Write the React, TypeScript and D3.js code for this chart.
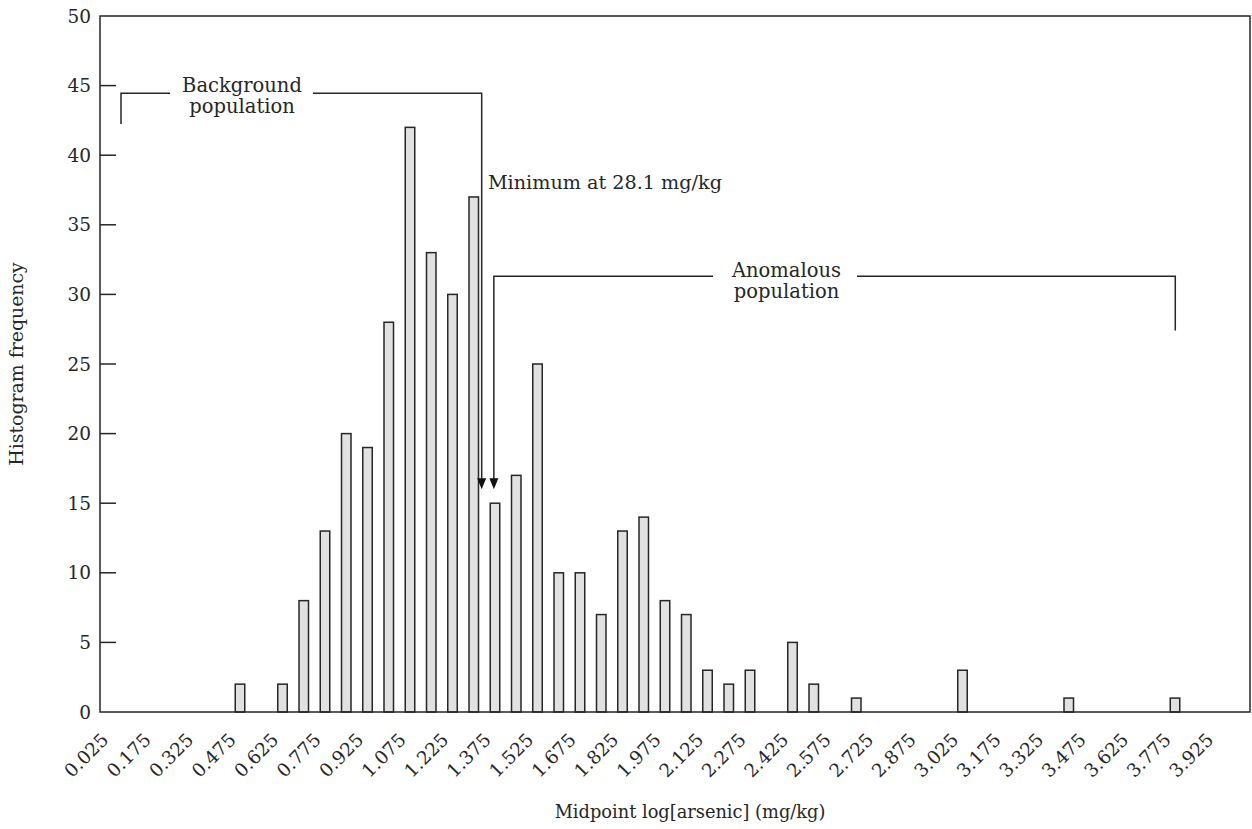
import React, { useEffect, useRef } from "react";
import * as d3 from "d3";

// Bin midpoints (log mg/kg) and histogram frequencies
const binMidpoints = [
  0.475, 0.625, 0.7, 0.775, 0.85, 0.925, 1.0, 1.075, 1.15, 1.225, 1.3, 1.375, 1.45, 1.525,
  1.6, 1.675, 1.75, 1.825, 1.9, 1.975, 2.05, 2.125, 2.2, 2.275, 2.425, 2.5, 2.65, 3.025, 3.4, 3.775,
];
const frequencies = [
  2, 2, 8, 13, 20, 19, 28, 42, 33, 30, 37, 15, 17, 25,
  10, 10, 7, 13, 14, 8, 7, 3, 2, 3, 5, 2, 1, 3, 1, 1,
];
const xTickValues = [
  0.025, 0.175, 0.325, 0.475, 0.625, 0.775, 0.925, 1.075, 1.225, 1.375, 1.525, 1.675, 1.825,
  1.975, 2.125, 2.275, 2.425, 2.575, 2.725, 2.875, 3.025, 3.175, 3.325, 3.475, 3.625, 3.775, 3.925,
];
const yTickValues = [0, 5, 10, 15, 20, 25, 30, 35, 40, 45, 50];

// Annotation anchors (data units)
const backgroundBracket = { xLeft: 0.055, xArrow: 1.328, yTop: 44.45, yLeftEnd: 42.25, yArrowTip: 16 };
const anomalousBracket = { xArrow: 1.371, xRight: 3.776, yTop: 31.3, yRightEnd: 27.4, yArrowTip: 16 };
const minimumLabel = { x: 1.35, y: 37.6, text: "Minimum at 28.1 mg/kg" };

const W = 1252;
const H = 829;
const FONT = "'DejaVu Serif', serif";
const INK = "#262626";

export default function App() {
  const ref = useRef<SVGSVGElement | null>(null);

  useEffect(() => {
    const svg = d3.select(ref.current);
    svg.selectAll("*").remove();

    const plotLeft = 100, plotRight = 1250, plotTop = 16, plotBottom = 712;
    const x = d3.scaleLinear().domain([0.025, 3.925]).range([112.5, 1217.5]);
    const y = d3.scaleLinear().domain([0, 50]).range([plotBottom, plotTop]);
    const barW = 9.5;

    const g = svg.append("g");

    // bars
    g.selectAll("rect.bar")
      .data(binMidpoints.map((m, i) => ({ m, f: frequencies[i] })))
      .enter()
      .append("rect")
      .attr("x", (d) => x(d.m) - barW / 2)
      .attr("y", (d) => y(d.f))
      .attr("width", barW)
      .attr("height", (d) => y(0) - y(d.f))
      .attr("fill", "#e1e1e1")
      .attr("stroke", INK)
      .attr("stroke-width", 1.5);

    // frame
    g.append("rect")
      .attr("x", plotLeft)
      .attr("y", plotTop)
      .attr("width", plotRight - plotLeft)
      .attr("height", plotBottom - plotTop)
      .attr("fill", "none")
      .attr("stroke", INK)
      .attr("stroke-width", 1.5);

    // y ticks
    yTickValues.forEach((v) => {
      if (v > 0 && v < 50) {
        g.append("line")
          .attr("x1", plotLeft).attr("x2", plotLeft + 16)
          .attr("y1", y(v)).attr("y2", y(v))
          .attr("stroke", INK).attr("stroke-width", 1.5);
      }
      g.append("text")
        .attr("x", 91)
        .attr("y", y(v))
        .attr("dy", "0.36em")
        .attr("text-anchor", "end")
        .attr("font-family", FONT)
        .attr("font-size", 18.5)
        .attr("fill", INK)
        .text(String(v));
    });

    // x tick labels
    xTickValues.forEach((v) => {
      g.append("text")
        .attr("transform", `translate(${x(v) - 3},${741}) rotate(-45)`)
        .attr("text-anchor", "end")
        .attr("font-family", FONT)
        .attr("font-size", 18.5)
        .attr("fill", INK)
        .text(v.toFixed(3));
    });

    // axis titles
    g.append("text")
      .attr("x", 690).attr("y", 818)
      .attr("text-anchor", "middle")
      .attr("font-family", FONT).attr("font-size", 17.8).attr("fill", INK)
      .text("Midpoint log[arsenic] (mg/kg)");
    g.append("text")
      .attr("transform", `translate(23,364) rotate(-90)`)
      .attr("text-anchor", "middle")
      .attr("font-family", FONT).attr("font-size", 18.9).attr("fill", INK)
      .text("Histogram frequency");

    const lineStyle = (sel: any) => sel.attr("fill", "none").attr("stroke", INK).attr("stroke-width", 1.5);
    const arrowHead = (xd: number, yd: number) => {
      const px = x(xd), py = y(yd);
      g.append("path")
        .attr("d", `M${px - 4.5},${py - 11} L${px + 4.5},${py - 11} L${px},${py} Z`)
        .attr("fill", "#111");
    };

    const ANN = 19.5;

    // Background population bracket
    const bb = backgroundBracket;
    lineStyle(g.append("path").attr("d", `M${x(bb.xLeft)},${y(bb.yLeftEnd)} V${y(bb.yTop)} H170`));
    lineStyle(g.append("path").attr("d", `M313,${y(bb.yTop)} H${x(bb.xArrow)} V${y(bb.yArrowTip) - 8}`));
    arrowHead(bb.xArrow, bb.yArrowTip);
    ["Background", "population"].forEach((t, i) => {
      g.append("text")
        .attr("x", 242).attr("y", 91.5 + i * 21.5)
        .attr("text-anchor", "middle")
        .attr("font-family", FONT).attr("font-size", ANN).attr("fill", INK)
        .text(t);
    });

    // Minimum label
    g.append("text")
      .attr("x", x(minimumLabel.x)).attr("y", y(minimumLabel.y))
      .attr("font-family", FONT).attr("font-size", 19.2).attr("fill", INK)
      .text(minimumLabel.text);

    // Anomalous population bracket
    const ab = anomalousBracket;
    lineStyle(g.append("path").attr("d", `M${x(ab.xArrow)},${y(ab.yArrowTip) - 8} V${y(ab.yTop)} H713`));
    lineStyle(g.append("path").attr("d", `M857,${y(ab.yTop)} H${x(ab.xRight)} V${y(ab.yRightEnd)}`));
    arrowHead(ab.xArrow, ab.yArrowTip);
    ["Anomalous", "population"].forEach((t, i) => {
      g.append("text")
        .attr("x", 786.5).attr("y", 276.5 + i * 21.5)
        .attr("text-anchor", "middle")
        .attr("font-family", FONT).attr("font-size", ANN).attr("fill", INK)
        .text(t);
    });
  }, []);

  return (
    <svg
      ref={ref}
      width={W}
      height={H}
      style={{ position: "absolute", left: 0, top: 0, background: "#fff" }}
    />
  );
}
